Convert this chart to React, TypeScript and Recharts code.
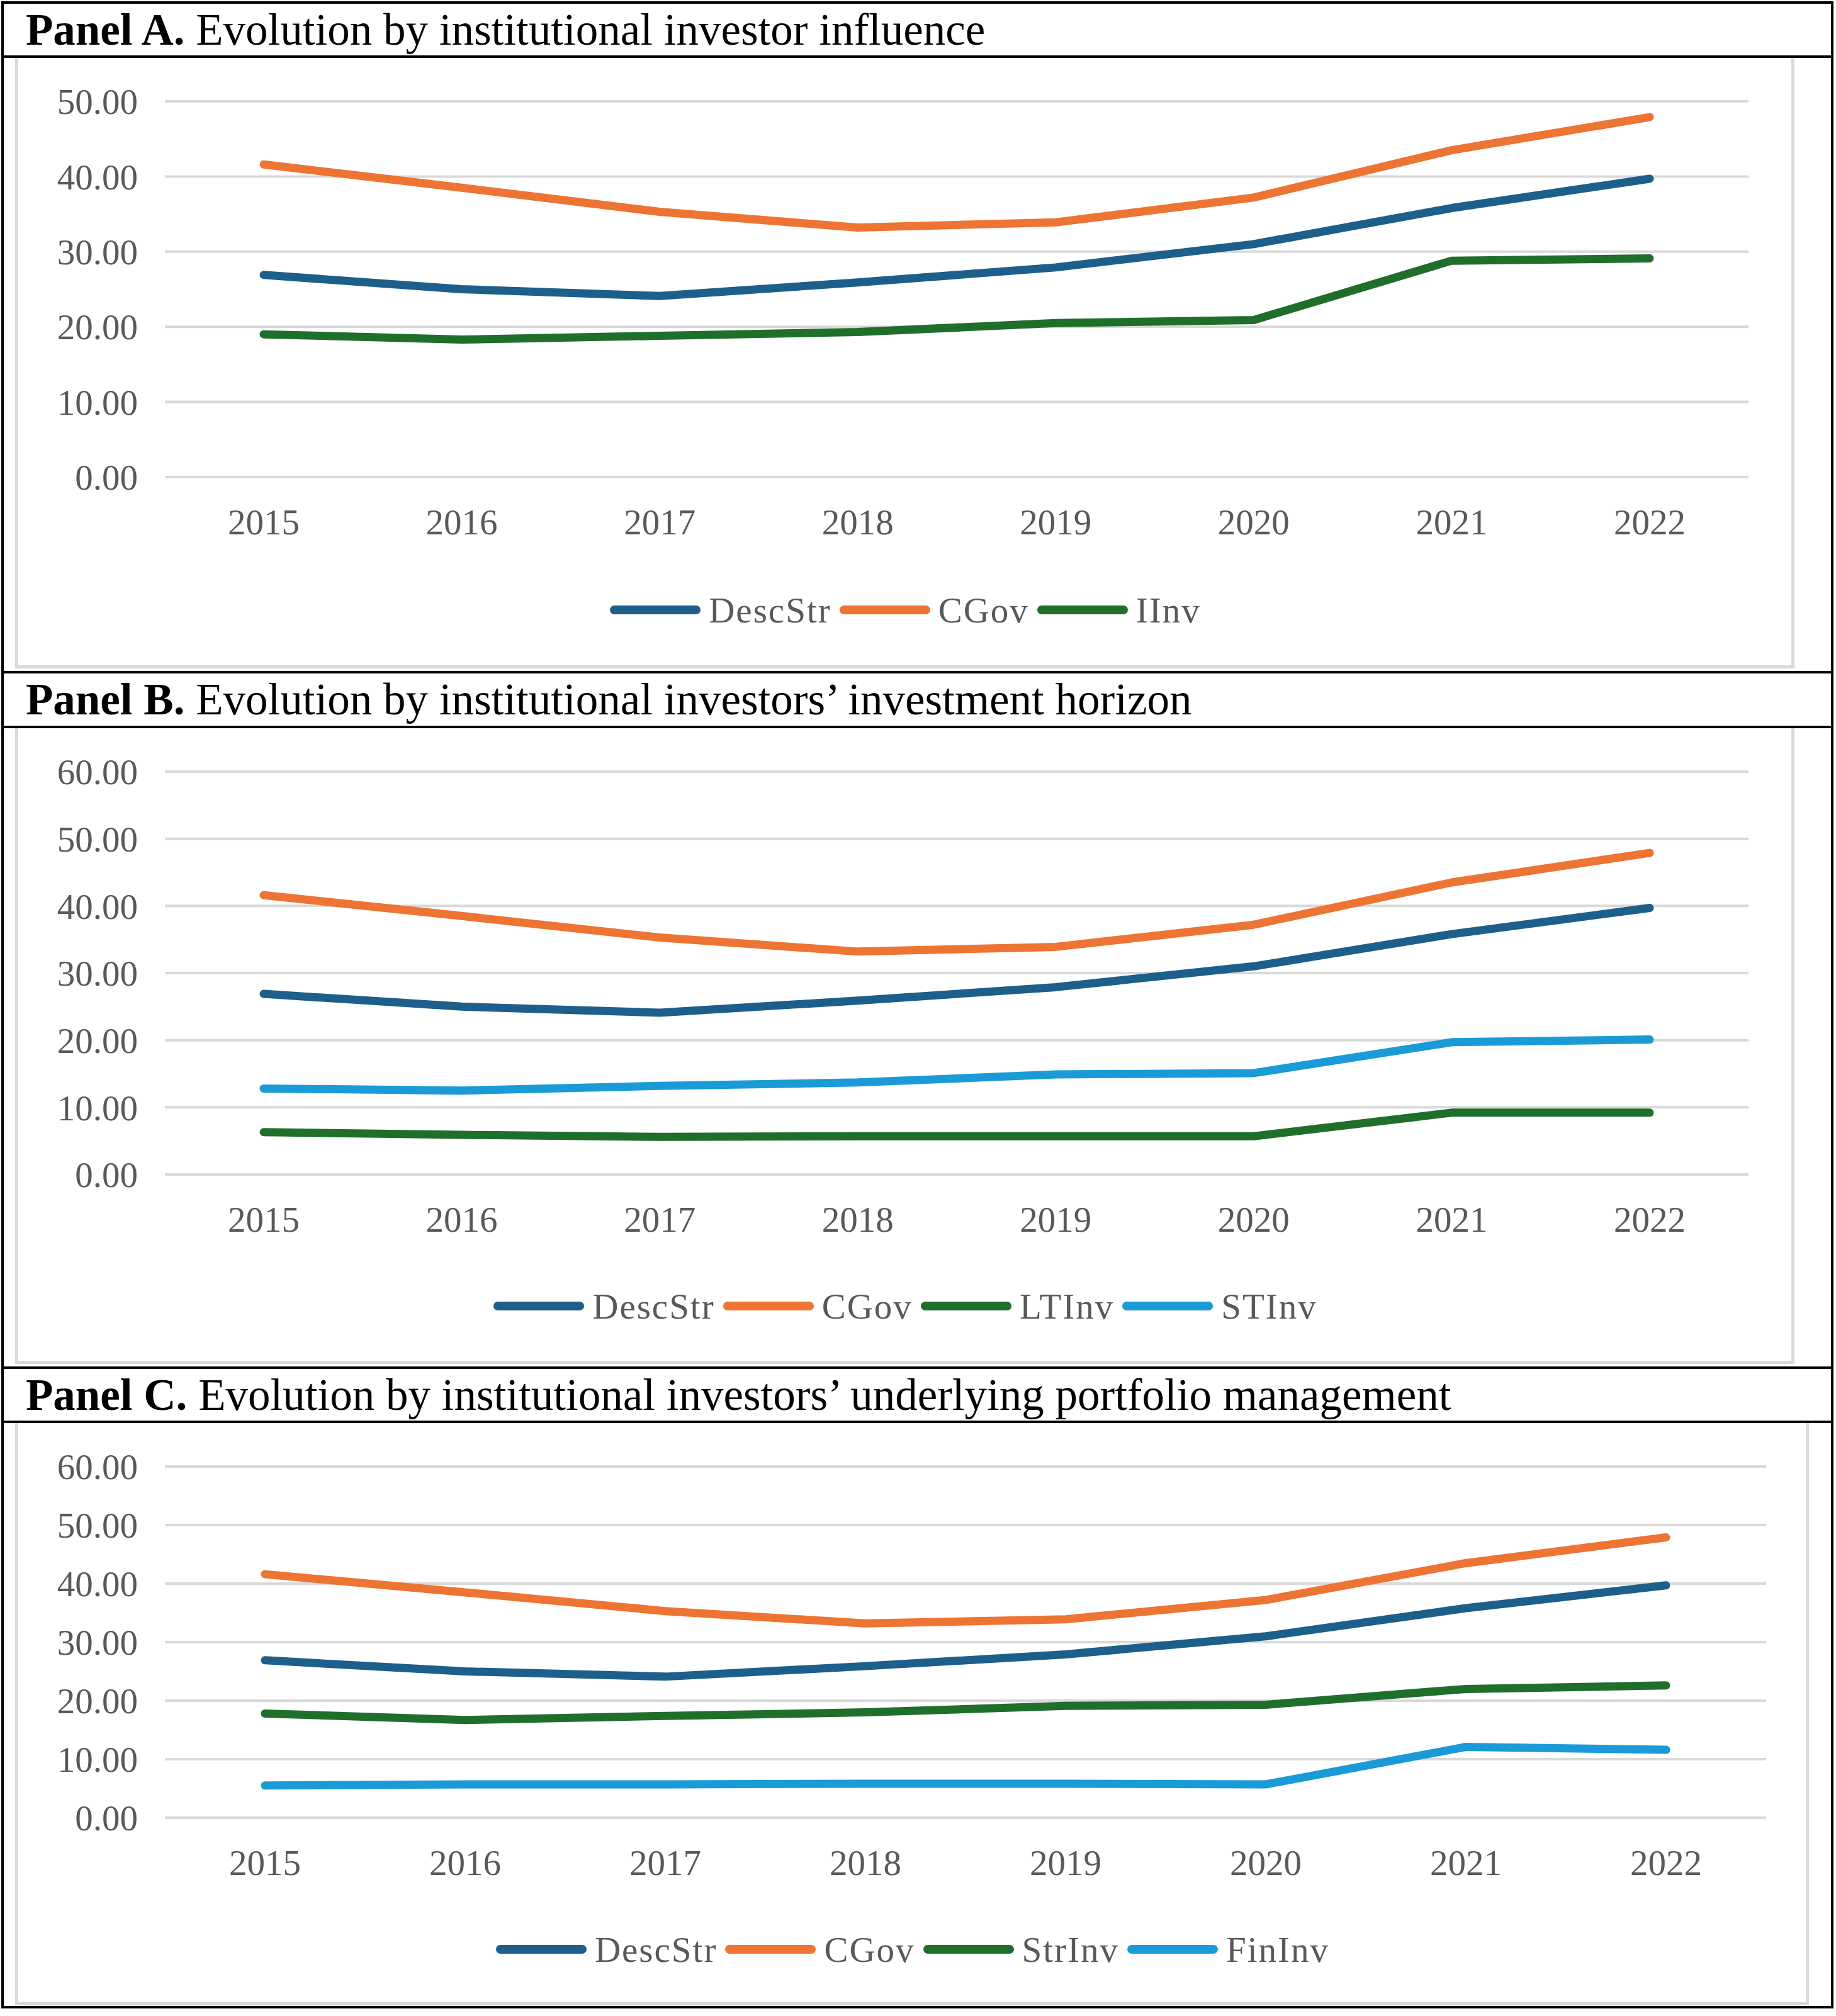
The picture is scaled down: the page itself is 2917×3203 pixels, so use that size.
import { LineChart, Line, XAxis, YAxis, CartesianGrid } from 'recharts';

const years = ['2015', '2016', '2017', '2018', '2019', '2020', '2021', '2022'];

// series values
const descStr = [26.9, 25.0, 24.1, 25.9, 27.9, 31.0, 35.8, 39.7];
const cGov = [41.6, 38.5, 35.3, 33.2, 33.9, 37.2, 43.5, 47.9];
const iInv = [19.0, 18.3, 18.8, 19.3, 20.5, 20.9, 28.8, 29.1];
const ltInv = [6.3, 5.9, 5.6, 5.7, 5.7, 5.7, 9.2, 9.2];
const stInv = [12.8, 12.5, 13.2, 13.7, 14.9, 15.1, 19.7, 20.1];
const strInv = [17.8, 16.7, 17.4, 18.0, 19.1, 19.3, 22.0, 22.6];
const finInv = [5.5, 5.7, 5.7, 5.8, 5.8, 5.7, 12.1, 11.6];

const ticksA = [0, 10, 20, 30, 40, 50];
const ticksBC = [0, 10, 20, 30, 40, 50, 60];

const BLUE = '#1D5F8A';
const ORANGE = '#EE7433';
const GREEN = '#1F6F2B';
const SKY = '#1A9BD7';

const TEXT_GRAY = '#595959';
const GRID = '#d9d9d9';
const SERIF = '"Liberation Serif", "Times New Roman", serif';

type SeriesDef = { key: string; name: string; values: number[]; color: string };

const seriesA: SeriesDef[] = [
  { key: 'descStr', name: 'DescStr', values: descStr, color: BLUE },
  { key: 'cGov', name: 'CGov', values: cGov, color: ORANGE },
  { key: 'iInv', name: 'IInv', values: iInv, color: GREEN },
];
const seriesB: SeriesDef[] = [
  { key: 'descStr', name: 'DescStr', values: descStr, color: BLUE },
  { key: 'cGov', name: 'CGov', values: cGov, color: ORANGE },
  { key: 'ltInv', name: 'LTInv', values: ltInv, color: GREEN },
  { key: 'stInv', name: 'STInv', values: stInv, color: SKY },
];
const seriesC: SeriesDef[] = [
  { key: 'descStr', name: 'DescStr', values: descStr, color: BLUE },
  { key: 'cGov', name: 'CGov', values: cGov, color: ORANGE },
  { key: 'strInv', name: 'StrInv', values: strInv, color: GREEN },
  { key: 'finInv', name: 'FinInv', values: finInv, color: SKY },
];

function buildRows(series: SeriesDef[]) {
  return years.map((year, i) => {
    const row: Record<string, string | number> = { year };
    series.forEach((s) => {
      row[s.key] = s.values[i];
    });
    return row;
  });
}

const PAGE_W = 2917;
const X_AXIS_H = 100;
const Y_AXIS_W = 200;

interface PanelProps {
  label: string;
  title: string;
  bandTop: number;
  bandBottom: number;
  chartBottom: number;
  borderRight: number;
  borderBottom: number;
  plotTop: number;
  plotBottom: number;
  plotRight: number;
  xPad: number;
  yTicks: number[];
  legendY: number;
  series: SeriesDef[];
}

function Panel(p: PanelProps) {
  const chartH = p.chartBottom - p.bandBottom;
  const data = buildRows(p.series);
  const yMax = p.yTicks[p.yTicks.length - 1];
  return (
    <>
      {/* title band */}
      <div
        style={{
          position: 'absolute',
          left: 4,
          top: p.bandTop,
          width: 2905,
          height: p.bandBottom - p.bandTop,
          display: 'flex',
          alignItems: 'center',
          fontFamily: SERIF,
          fontSize: 71,
          lineHeight: 1,
          color: '#000',
          whiteSpace: 'nowrap',
        }}
      >
        <span style={{ paddingLeft: 37 }}>
          <b>{p.label}</b> {p.title}
        </span>
      </div>
      <div style={{ position: 'absolute', left: 2, top: p.bandBottom - 2, width: 2911, height: 4, background: '#000' }} />

      {/* chart area frame */}
      <div
        style={{
          position: 'absolute',
          left: 24,
          top: p.bandBottom + 2,
          width: p.borderRight - 24,
          height: p.borderBottom - p.bandBottom - 2,
          border: `5px solid ${GRID}`,
          borderTop: 'none',
          boxSizing: 'border-box',
        }}
      />

      <div style={{ position: 'absolute', left: 0, top: p.bandBottom }}>
        <LineChart
          width={PAGE_W}
          height={chartH}
          data={data}
          margin={{
            top: p.plotTop - p.bandBottom,
            right: PAGE_W - p.plotRight,
            left: p.plotRight ? 262 - Y_AXIS_W : 0,
            bottom: chartH - (p.plotBottom - p.bandBottom) - X_AXIS_H,
          }}
        >
          <CartesianGrid vertical={false} stroke={GRID} strokeWidth={4} />
          <XAxis
            dataKey="year"
            height={X_AXIS_H}
            axisLine={false}
            tickLine={false}
            tickSize={0}
            tickMargin={51}
            padding={{ left: p.xPad, right: p.xPad }}
            interval={0}
            tick={{ fill: TEXT_GRAY, fontSize: 57, fontFamily: SERIF }}
          />
          <YAxis
            width={Y_AXIS_W}
            domain={[0, yMax]}
            ticks={p.yTicks}
            interval={0}
            axisLine={false}
            tickLine={false}
            tickSize={0}
            tickMargin={43}
            tickFormatter={(v: number) => v.toFixed(2)}
            tick={{ fill: TEXT_GRAY, fontSize: 57, fontFamily: SERIF }}
          />
          {p.series.map((s) => (
            <Line
              key={s.key}
              type="linear"
              dataKey={s.key}
              name={s.name}
              stroke={s.color}
              strokeWidth={13}
              strokeLinecap="round"
              strokeLinejoin="round"
              dot={false}
              activeDot={false}
              isAnimationActive={false}
            />
          ))}
        </LineChart>
      </div>

      {/* legend */}
      <div
        style={{
          position: 'absolute',
          left: 26,
          top: p.legendY - 40,
          width: p.borderRight - 26,
          height: 80,
          display: 'flex',
          justifyContent: 'center',
          alignItems: 'center',
          fontFamily: SERIF,
          fontSize: 57,
          color: TEXT_GRAY,
          letterSpacing: 2,
          whiteSpace: 'nowrap',
        }}
      >
        {p.series.map((s, i) => (
          <span key={s.key} style={{ display: 'flex', alignItems: 'center' }}>
            <span
              style={{
                display: 'inline-block',
                width: 144,
                height: 14,
                borderRadius: 7,
                background: s.color,
                marginRight: 13,
                marginLeft: i === 0 ? 0 : 13,
              }}
            />
            <span>{s.name}</span>
          </span>
        ))}
      </div>
    </>
  );
}

export default function App() {
  return (
    <div style={{ position: 'relative', width: PAGE_W, height: 3203, background: '#fff', overflow: 'hidden' }}>
      <style>{'body{margin:0;}'}</style>
      {/* outer frame */}
      <div
        style={{
          position: 'absolute',
          left: 2,
          top: 2,
          width: 2911,
          height: 3189,
          border: '4px solid #000',
          boxSizing: 'border-box',
        }}
      />
      <div style={{ position: 'absolute', left: 2, top: 1066, width: 2911, height: 4, background: '#000' }} />
      <div style={{ position: 'absolute', left: 2, top: 2171, width: 2911, height: 4, background: '#000' }} />

      <Panel
        label="Panel A."
        title="Evolution by institutional investor influence"
        bandTop={4}
        bandBottom={90}
        chartBottom={1066}
        borderRight={2851}
        borderBottom={1062}
        plotTop={161}
        plotBottom={758}
        plotRight={2778}
        xPad={157}
        yTicks={ticksA}
        legendY={969}
        series={seriesA}
      />
      <Panel
        label="Panel B."
        title="Evolution by institutional investors’ investment horizon"
        bandTop={1068}
        bandBottom={1155}
        chartBottom={2171}
        borderRight={2851}
        borderBottom={2167}
        plotTop={1226}
        plotBottom={1866}
        plotRight={2778}
        xPad={157}
        yTicks={ticksBC}
        legendY={2075}
        series={seriesB}
      />
      <Panel
        label="Panel C."
        title="Evolution by institutional investors’ underlying portfolio management"
        bandTop={2173}
        bandBottom={2259}
        chartBottom={3187}
        borderRight={2874}
        borderBottom={3186}
        plotTop={2330}
        plotBottom={2888}
        plotRight={2806}
        xPad={159}
        yTicks={ticksBC}
        legendY={3097}
        series={seriesC}
      />
    </div>
  );
}
